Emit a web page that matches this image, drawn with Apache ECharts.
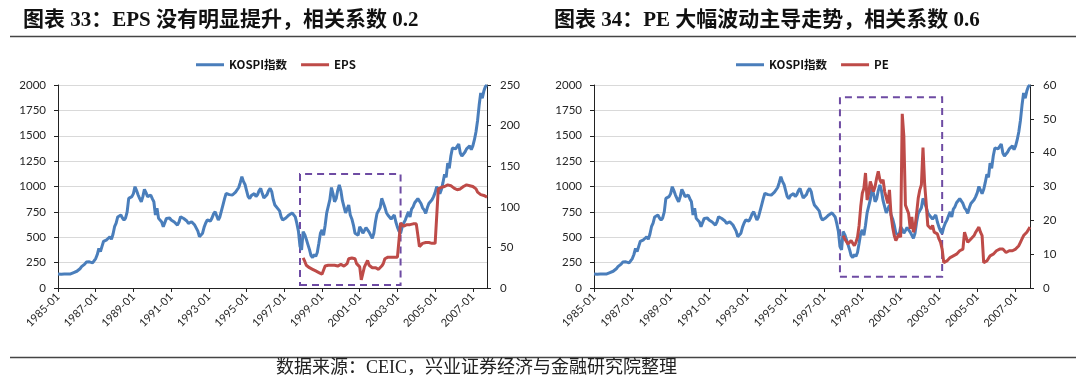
<!DOCTYPE html>
<html>
<head>
<meta charset="utf-8">
<script src="https://cdn.jsdelivr.net/npm/echarts@6/dist/echarts.min.js"></script>
<style>html,body{margin:0;padding:0;background:#fff;}#c{width:1080px;height:378px;}</style>
</head>
<body>
<div id="c"></div>
<script>
// ---- Data ----
const title1 = '图表 33：EPS 没有明显提升，相关系数 0.2';
const title2 = '图表 34：PE 大幅波动主导走势，相关系数 0.6';
const sourceText = '数据来源：CEIC，兴业证券经济与金融研究院整理';
const startYear = 1985, endYear = 2007, endMonth = 10;
const categories = [];
for (let y = startYear; y <= endYear; y++) {
  for (let m = 1; m <= 12; m++) {
    if (y === endYear && m > endMonth) break;
    categories.push(y + '-' + (m < 10 ? '0' + m : m));
  }
}
// KOSPI monthly, 1985-01 .. 2007-10
const kospi = [
  138,137,136,136,137,137,138,137,139,145,152,160,
  165,175,190,210,225,235,255,262,258,245,248,265,
  290,330,390,360,410,460,470,475,490,505,480,530,
  604,640,700,705,719,690,670,690,750,883,870,900,
  930,998,960,916,880,850,900,972,940,900,910,916,
  880,850,719,785,686,700,650,604,620,686,680,690,
  670,660,650,640,620,650,702,690,685,696,660,637,
  645,653,640,620,604,560,506,520,540,600,640,670,
  680,660,690,730,752,740,670,700,760,820,880,933,
  925,920,910,916,930,945,960,990,1040,1097,1050,1020,
  960,900,880,910,920,930,900,920,960,982,930,887,
  900,920,960,982,950,870,818,800,780,760,700,670,
  680,690,700,720,735,740,720,700,637,560,410,376,
  556,526,481,430,380,320,300,331,311,350,440,540,
  571,520,618,740,727,870,990,930,850,880,960,1015,
  960,860,870,740,735,818,720,680,620,540,521,520,
  604,578,540,567,595,590,550,540,489,540,650,735,
  740,790,883,840,796,742,717,723,680,690,719,650,
  600,560,539,599,640,669,712,750,700,778,800,840,
  860,880,870,833,790,770,735,790,833,845,870,900,
  940,1000,965,930,970,1040,1120,1090,1231,1180,1300,1380,
  1399,1371,1359,1419,1330,1300,1297,1340,1371,1364,1400,1363,
  1400,1461,1540,1650,1800,1921,1870,1940,1985,2000
];
const subStart = '1998-01';
// EPS, 1998-01 .. 2007-10
const eps = [
  37,33,28,27,25,24,23,22,21,20,19,18,
  17,17,27,28,28,28,28,29,28,28,27,28,
  29,27,27,26,30,36,38,37,37,36,30,28,
  26,10,18,26,26,34,28,26,25,24,25,24,
  23,22,27,30,36,37,38,38,38,37,38,39,
  38,39,80,79,76,77,78,77,78,79,79,80,
  79,78,51,52,55,57,56,57,56,56,55,55,
  55,54,122,123,124,124,125,126,127,126,126,124,
  123,122,121,121,122,124,125,126,127,127,126,126,
  125,124,122,118,116,115,115,114,112,112
];
// PE, 1998-01 .. 2007-10
const pe = [
  15.5,14.5,15.0,13.0,12.5,14.0,13.5,12.5,13.5,15.0,18.5,24.0,
  28.0,29.5,34.0,26.0,28.0,31.5,31.0,28.5,30.0,32.5,34.5,32.0,
  31.0,32.0,28.5,29.0,25.0,29.0,21.5,18.0,15.5,14.0,14.5,16.0,
  15.0,51.5,45.0,24.5,25.0,22.0,17.5,21.0,16.5,18.0,22.0,26.5,
  29.0,30.5,41.5,31.0,25.0,18.5,18.0,17.5,18.5,16.5,17.0,16.0,
  14.5,13.5,11.5,7.5,7.0,8.0,8.5,9.0,9.5,9.5,10.0,10.0,
  10.5,11.0,11.0,11.5,16.5,15.0,13.5,14.0,14.5,15.0,15.5,16.5,
  17.0,18.0,16.5,15.5,7.5,7.5,8.0,8.5,9.5,9.5,10.0,10.5,
  11.0,11.0,11.5,11.0,11.5,11.0,10.5,10.5,11.0,10.5,11.0,11.0,
  11.5,11.5,12.5,13.5,14.5,15.5,16.0,16.5,17.0,18.0
];
// highlighted windows: [start, end, yLow, yHigh] on left axis
const box1 = ['1997-11', '2003-03', 30, 1123];
const box2 = ['1997-11', '2003-03', 111, 1880];
const leftTicks = {min: 0, max: 2000, interval: 250};
const epsTicks = {min: 0, max: 250, interval: 50};
const peTicks = {min: 0, max: 60, interval: 10};

// ---- Build ----
const offset = categories.indexOf(subStart);
function pad(arr) {
  const out = categories.map(() => null);
  arr.forEach((v, i) => { out[offset + i] = v; });
  return out;
}
const BLUE = '#4A7EBB', RED = '#BE4B48', PURPLE = '#6E4BA3';
const lab = {fontFamily: 'Lato, "Noto Sans", sans-serif', fontSize: 11.5, color: '#262626'};
function xAxis(gi) {
  return {
    type: 'category', gridIndex: gi, data: categories, boundaryGap: false,
    axisLine: {lineStyle: {color: '#222', width: 1}},
    axisTick: {interval: 23, length: 4, lineStyle: {color: '#222'}},
    axisLabel: Object.assign({interval: 23, rotate: 45, margin: 7}, lab, {fontSize: 11}),
    splitLine: {show: false}
  };
}
function yAxis(gi, pos, t, grid) {
  return Object.assign({
    type: 'value', gridIndex: gi, position: pos,
    axisLine: {show: true, lineStyle: {color: '#222', width: 1}},
    axisTick: {show: true, length: 4, inside: false, lineStyle: {color: '#222'}},
    axisLabel: Object.assign({margin: pos === 'left' ? 12 : 13, formatter: v => String(v)}, lab),
    splitLine: {show: grid, lineStyle: {color: '#D9D9D9', width: 1}}
  }, t);
}
function boxArea(b) {
  return {
    silent: true,
    itemStyle: {color: 'rgba(0,0,0,0)', borderColor: PURPLE, borderWidth: 2, borderType: [7, 5]},
    data: [[{xAxis: b[0], yAxis: b[2]}, {xAxis: b[1], yAxis: b[3]}]]
  };
}
const cjkSerif = '"Liberation Serif", "Noto Sans CJK SC", serif';
const legendText = {fontFamily: '"Noto Sans CJK SC", sans-serif', fontSize: 11.5, fontWeight: 'bold', color: '#111'};
const option = {
  animation: false,
  backgroundColor: '#fff',
  grid: [
    {left: 58, top: 85, width: 429, height: 203},
    {left: 594, top: 85, width: 436, height: 203}
  ],
  legend: [
    {left: 191, top: 54, itemWidth: 28, itemHeight: 3, itemGap: 14, icon: 'rect', data: ['KOSPI指数', 'EPS'], textStyle: legendText},
    {left: 731, top: 54, itemWidth: 28, itemHeight: 3, itemGap: 14, icon: 'rect', data: ['KOSPI指数', 'PE'], textStyle: legendText}
  ],
  xAxis: [xAxis(0), xAxis(1)],
  yAxis: [
    yAxis(0, 'left', leftTicks, true),
    yAxis(0, 'right', epsTicks, false),
    yAxis(1, 'left', leftTicks, true),
    yAxis(1, 'right', peTicks, false)
  ],
  series: [
    {name: 'KOSPI指数', type: 'line', xAxisIndex: 0, yAxisIndex: 0, data: kospi, showSymbol: false,
     lineStyle: {color: BLUE, width: 3}, itemStyle: {color: BLUE}, markArea: boxArea(box1)},
    {name: 'EPS', type: 'line', xAxisIndex: 0, yAxisIndex: 1, data: pad(eps), showSymbol: false,
     lineStyle: {color: RED, width: 3}, itemStyle: {color: RED}},
    {name: 'KOSPI指数', type: 'line', xAxisIndex: 1, yAxisIndex: 2, data: kospi, showSymbol: false,
     lineStyle: {color: BLUE, width: 3}, itemStyle: {color: BLUE}, markArea: boxArea(box2)},
    {name: 'PE', type: 'line', xAxisIndex: 1, yAxisIndex: 3, data: pad(pe), showSymbol: false,
     lineStyle: {color: RED, width: 3}, itemStyle: {color: RED}}
  ],
  graphic: [
    {type: 'text', x: 23, y: 21, style: {text: title1, fontFamily: cjkSerif, fontSize: 21, fontWeight: 'bold', fill: '#111', verticalAlign: 'middle'}},
    {type: 'text', x: 554, y: 21, style: {text: title2, fontFamily: cjkSerif, fontSize: 21, fontWeight: 'bold', fill: '#111', verticalAlign: 'middle'}},
    {type: 'line', shape: {x1: 10, y1: 36.5, x2: 1076, y2: 36.5}, style: {stroke: '#444', lineWidth: 1.5}},
    {type: 'line', shape: {x1: 10, y1: 357.5, x2: 1076, y2: 357.5}, style: {stroke: '#444', lineWidth: 1.5}},
    {type: 'text', x: 276, y: 368, style: {text: sourceText, fontFamily: cjkSerif, fontSize: 18, fill: '#222', verticalAlign: 'middle'}}
  ]
};
const chart = echarts.init(document.getElementById('c'), null, {renderer: 'canvas'});
chart.setOption(option);
</script>
</body>
</html>
